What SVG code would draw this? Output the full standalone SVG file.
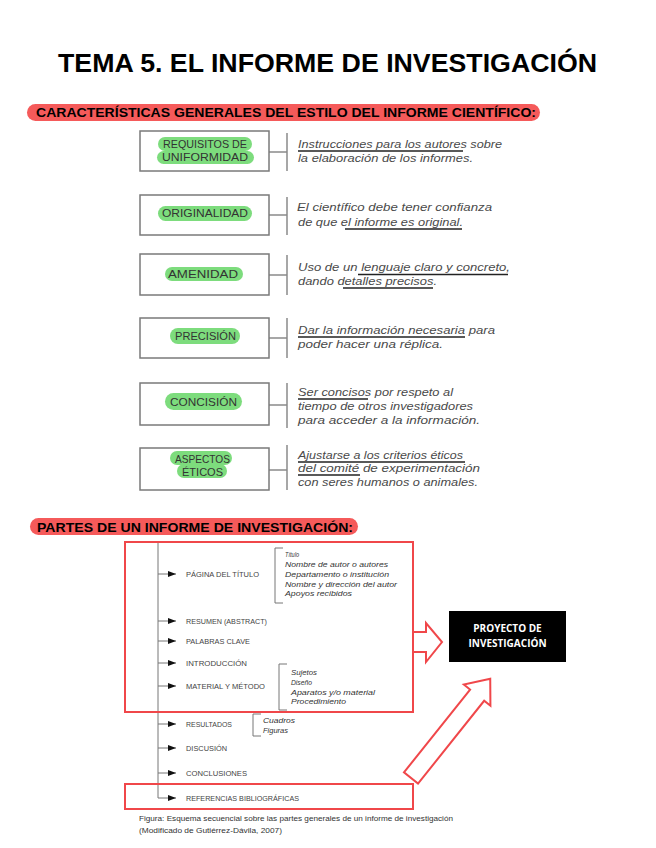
<svg xmlns="http://www.w3.org/2000/svg" width="656" height="848" viewBox="0 0 656 848">
<defs>
<style>
.title{font-family:"Liberation Sans",Arial,sans-serif;font-weight:bold;font-size:26.5px;fill:#000}
.hdr{font-family:"Liberation Sans",Arial,sans-serif;font-weight:bold;font-size:12.5px;fill:#000}
.pill{fill:#f55a5a}
.box{fill:#fff;stroke:#7a7a7a;stroke-width:1.5}
.gp{fill:#7ddc7d}
.lbl{font-family:"Liberation Sans",Arial,sans-serif;font-size:11px;fill:#333}
.desc{font-family:"Liberation Sans",Arial,sans-serif;font-style:italic;font-size:11.5px;fill:#4a4a4a}
.conn{stroke:#8a8a8a;stroke-width:1.5;fill:none}
.ul{stroke:#222;stroke-width:1.3}
.red{fill:none;stroke:#f0474a;stroke-width:2}
.redw{fill:#fff;stroke:#f0474a;stroke-width:2;stroke-linejoin:miter}
.tree{stroke:#777;stroke-width:1;fill:none}
.item{font-family:"Liberation Sans",Arial,sans-serif;font-size:8px;fill:#444}
.sub{font-family:"Liberation Sans",Arial,sans-serif;font-style:italic;font-size:7.5px;fill:#333}
.cap{font-family:"Liberation Sans",Arial,sans-serif;font-size:7.5px;fill:#333}
.proj{font-family:"Open Sans","Liberation Sans",Arial,sans-serif;font-weight:bold;font-size:10px;fill:#fff}
</style>
<marker id="ah" viewBox="0 0 8 6" refX="8" refY="3" markerWidth="8" markerHeight="6" markerUnits="userSpaceOnUse" orient="auto">
<path d="M0,0 L8,3 L0,6 Z" fill="#111"/>
</marker>
</defs>
<rect width="656" height="848" fill="#fff"/>

<text class="title" x="58" y="72" textLength="539" lengthAdjust="spacingAndGlyphs">TEMA 5. EL INFORME DE INVESTIGACIÓN</text>

<g id="header1">
<rect class="pill" x="27" y="104" width="513" height="17" rx="8.5"/>
<text class="hdr" x="36" y="117" textLength="500" lengthAdjust="spacingAndGlyphs">CARACTERÍSTICAS GENERALES DEL ESTILO DEL INFORME CIENTÍFICO:</text>
</g>

<g id="connectors-top">
<path class="conn" d="M269,152 H287 M287,133 V171"/>
<path class="conn" d="M269,215 H287 M287,197 V235"/>
<path class="conn" d="M269,275 H287 M287,255 V295"/>
<path class="conn" d="M269,338 H287 M287,318 V358"/>
<path class="conn" d="M269,405 H287 M287,383 V428"/>
<path class="conn" d="M269,470 H287 M287,445 V490"/>
</g>

<g id="n-uniformidad">
<rect class="box" x="140" y="131" width="129" height="40"/>
<rect class="gp" x="158" y="137" width="94" height="14" rx="7"/>
<rect class="gp" x="157" y="151" width="97" height="13" rx="6.5"/>
<text class="lbl" x="163" y="148" textLength="84" lengthAdjust="spacingAndGlyphs">REQUISITOS DE</text>
<text class="lbl" x="162" y="161" textLength="86" lengthAdjust="spacingAndGlyphs">UNIFORMIDAD</text>
<text class="desc" x="298" y="148" textLength="204" lengthAdjust="spacingAndGlyphs">Instrucciones para los autores sobre</text>
<text class="desc" x="298" y="162" textLength="175" lengthAdjust="spacingAndGlyphs">la elaboración de los informes.</text>
<line class="ul" x1="298" y1="151" x2="463" y2="151"/>
</g>

<g id="n-originalidad">
<rect class="box" x="140" y="195" width="129" height="40"/>
<rect class="gp" x="158" y="206" width="94" height="15" rx="7.5"/>
<text class="lbl" x="162" y="217" textLength="86" lengthAdjust="spacingAndGlyphs">ORIGINALIDAD</text>
<text class="desc" x="297" y="211" textLength="195" lengthAdjust="spacingAndGlyphs">El científico debe tener confianza</text>
<text class="desc" x="298" y="226" textLength="165" lengthAdjust="spacingAndGlyphs">de que el informe es original.</text>
<line class="ul" x1="345" y1="229" x2="462" y2="229"/>
</g>

<g id="n-amenidad">
<rect class="box" x="140" y="254" width="129" height="41"/>
<rect class="gp" x="165" y="267" width="78" height="14" rx="7"/>
<text class="lbl" x="168" y="278" textLength="70" lengthAdjust="spacingAndGlyphs">AMENIDAD</text>
<text class="desc" x="298" y="271" textLength="212" lengthAdjust="spacingAndGlyphs">Uso de un lenguaje claro y concreto,</text>
<text class="desc" x="298" y="285" textLength="139" lengthAdjust="spacingAndGlyphs">dando detalles precisos.</text>
<line class="ul" x1="358" y1="274.5" x2="508" y2="274.5"/>
<line class="ul" x1="343" y1="288" x2="433" y2="288"/>
</g>

<g id="n-precision">
<rect class="box" x="140" y="318" width="129" height="40"/>
<rect class="gp" x="170" y="328" width="70" height="16" rx="8"/>
<text class="lbl" x="175" y="340" textLength="61" lengthAdjust="spacingAndGlyphs">PRECISIÓN</text>
<text class="desc" x="298" y="334" textLength="197" lengthAdjust="spacingAndGlyphs">Dar la información necesaria para</text>
<text class="desc" x="298" y="348" textLength="145" lengthAdjust="spacingAndGlyphs">poder hacer una réplica.</text>
<line class="ul" x1="298" y1="337" x2="465" y2="337"/>
</g>

<g id="n-concision">
<rect class="box" x="140" y="383" width="129" height="42"/>
<rect class="gp" x="165" y="393" width="77" height="17" rx="8.5"/>
<text class="lbl" x="170" y="406" textLength="67" lengthAdjust="spacingAndGlyphs">CONCISIÓN</text>
<text class="desc" x="298" y="396" textLength="155" lengthAdjust="spacingAndGlyphs">Ser concisos por respeto al</text>
<text class="desc" x="298" y="410" textLength="175" lengthAdjust="spacingAndGlyphs">tiempo de otros investigadores</text>
<text class="desc" x="298" y="424" textLength="182" lengthAdjust="spacingAndGlyphs">para acceder a la información.</text>
<line class="ul" x1="298" y1="399" x2="368" y2="399"/>
</g>

<g id="n-eticos">
<rect class="box" x="140" y="448" width="129" height="42"/>
<rect class="gp" x="170" y="451" width="62" height="14" rx="7"/>
<rect class="gp" x="177" y="464" width="50" height="14" rx="7"/>
<text class="lbl" x="175" y="463" textLength="55" lengthAdjust="spacingAndGlyphs">ASPECTOS</text>
<text class="lbl" x="182" y="476" textLength="41" lengthAdjust="spacingAndGlyphs">ÉTICOS</text>
<text class="desc" x="298" y="459" textLength="165" lengthAdjust="spacingAndGlyphs">Ajustarse a los criterios éticos</text>
<text class="desc" x="298" y="472" textLength="182" lengthAdjust="spacingAndGlyphs">del comité de experimentación</text>
<text class="desc" x="298" y="486" textLength="180" lengthAdjust="spacingAndGlyphs">con seres humanos o animales.</text>
<line class="ul" x1="298" y1="462" x2="465" y2="462"/>
<line class="ul" x1="298" y1="475" x2="360" y2="475"/>
</g>

<g id="header2">
<rect class="pill" x="30" y="518" width="328" height="17" rx="8.5"/>
<text class="hdr" x="37" y="532" textLength="316" lengthAdjust="spacingAndGlyphs">PARTES DE UN INFORME DE INVESTIGACIÓN:</text>
</g>

<g id="connectors-tree">
<line class="tree" x1="158" y1="542" x2="158" y2="798"/>
<line class="tree" x1="158" y1="574" x2="176" y2="574" marker-end="url(#ah)"/>
<line class="tree" x1="158" y1="621" x2="176" y2="621" marker-end="url(#ah)"/>
<line class="tree" x1="158" y1="641" x2="176" y2="641" marker-end="url(#ah)"/>
<line class="tree" x1="158" y1="663" x2="176" y2="663" marker-end="url(#ah)"/>
<line class="tree" x1="158" y1="686" x2="176" y2="686" marker-end="url(#ah)"/>
<line class="tree" x1="158" y1="724" x2="176" y2="724" marker-end="url(#ah)"/>
<line class="tree" x1="158" y1="748" x2="176" y2="748" marker-end="url(#ah)"/>
<line class="tree" x1="158" y1="773" x2="176" y2="773" marker-end="url(#ah)"/>
<line class="tree" x1="158" y1="798" x2="176" y2="798" marker-end="url(#ah)"/>
<path class="tree" d="M283,548 H275 V603 H283"/>
<path class="tree" d="M287,664 H279 V710 H287"/>
<path class="tree" d="M261,714 H253 V736 H261"/>
</g>

<g id="n-pagina">
<text class="item" x="186" y="577" textLength="73" lengthAdjust="spacingAndGlyphs">PÁGINA DEL TÍTULO</text>
<text class="sub" x="285" y="557" textLength="14" lengthAdjust="spacingAndGlyphs">Título</text>
<text class="sub" x="285" y="567" textLength="103" lengthAdjust="spacingAndGlyphs">Nombre de autor o autores</text>
<text class="sub" x="285" y="577" textLength="104" lengthAdjust="spacingAndGlyphs">Departamento o institución</text>
<text class="sub" x="285" y="587" textLength="112" lengthAdjust="spacingAndGlyphs">Nombre y dirección del autor</text>
<text class="sub" x="285" y="596" textLength="67" lengthAdjust="spacingAndGlyphs">Apoyos recibidos</text>
</g>
<g id="n-resumen"><text class="item" x="186" y="624" textLength="81" lengthAdjust="spacingAndGlyphs">RESUMEN (ABSTRACT)</text></g>
<g id="n-palabras"><text class="item" x="186" y="644" textLength="64" lengthAdjust="spacingAndGlyphs">PALABRAS CLAVE</text></g>
<g id="n-introduccion"><text class="item" x="186" y="666" textLength="61" lengthAdjust="spacingAndGlyphs">INTRODUCCIÓN</text></g>
<g id="n-material">
<text class="item" x="186" y="689" textLength="79" lengthAdjust="spacingAndGlyphs">MATERIAL Y MÉTODO</text>
<text class="sub" x="291" y="675" textLength="26" lengthAdjust="spacingAndGlyphs">Sujetos</text>
<text class="sub" x="291" y="685" textLength="21" lengthAdjust="spacingAndGlyphs">Diseño</text>
<text class="sub" x="291" y="695" textLength="84" lengthAdjust="spacingAndGlyphs">Aparatos y/o material</text>
<text class="sub" x="291" y="704" textLength="55" lengthAdjust="spacingAndGlyphs">Procedimiento</text>
</g>
<g id="n-resultados">
<text class="item" x="186" y="727" textLength="46" lengthAdjust="spacingAndGlyphs">RESULTADOS</text>
<text class="sub" x="263" y="723" textLength="32" lengthAdjust="spacingAndGlyphs">Cuadros</text>
<text class="sub" x="263" y="733" textLength="25" lengthAdjust="spacingAndGlyphs">Figuras</text>
</g>
<g id="n-discusion"><text class="item" x="186" y="751" textLength="41" lengthAdjust="spacingAndGlyphs">DISCUSIÓN</text></g>
<g id="n-conclusiones"><text class="item" x="186" y="776" textLength="61" lengthAdjust="spacingAndGlyphs">CONCLUSIONES</text></g>
<g id="n-referencias"><text class="item" x="186" y="801" textLength="113" lengthAdjust="spacingAndGlyphs">REFERENCIAS BIBLIOGRÁFICAS</text></g>

<g id="frames">
<rect class="red" x="125" y="542" width="288" height="170"/>
<rect class="red" x="125" y="784" width="288" height="25"/>
</g>

<g id="arrows">
<polygon class="redw" points="413,632 426,632 426,623 442,642 426,662 426,652 413,652"/>
<g transform="translate(411,778) rotate(-51.4)">
<polygon class="redw" points="0,-9 106,-9 106,-17 127,0 106,17 106,9 0,9"/>
</g>
</g>

<g id="n-proyecto">
<rect x="449" y="611" width="117" height="51" fill="#000"/>
<text class="proj" x="507.5" y="632" text-anchor="middle">PROYECTO DE</text>
<text class="proj" x="507.5" y="647" text-anchor="middle">INVESTIGACIÓN</text>
</g>

<g id="caption">
<text class="cap" x="139" y="821" textLength="314" lengthAdjust="spacingAndGlyphs">Figura: Esquema secuencial sobre las partes generales de un informe de investigación</text>
<text class="cap" x="139" y="833" textLength="143" lengthAdjust="spacingAndGlyphs">(Modificado de Gutiérrez-Dávila, 2007)</text>
</g>
</svg>
